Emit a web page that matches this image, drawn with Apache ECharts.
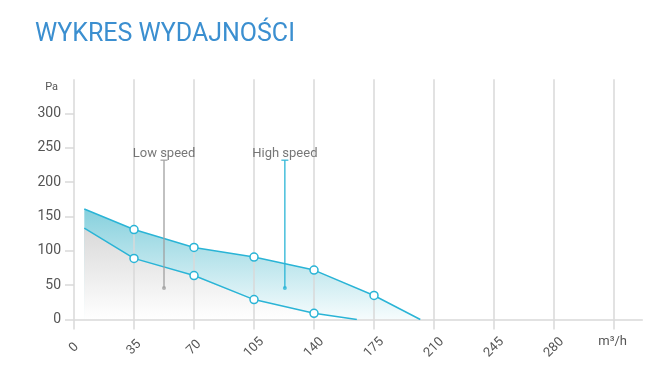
<!DOCTYPE html>
<html>
<head>
<meta charset="utf-8">
<script src="https://cdn.jsdelivr.net/npm/echarts@6/dist/echarts.min.js"></script>
<style>
html,body{margin:0;padding:0;background:#fff;}
#c{width:650px;height:382px;}
</style>
</head>
<body>
<div id="c"></div>
<script>
// ---- data ----
var titleText = 'WYKRES WYDAJNOŚCI';
var xTicks = [0, 35, 70, 105, 140, 175, 210, 245, 280, 315];
var xLabelTicks = [0, 35, 70, 105, 140, 175, 210, 245, 280];
var yTicks = [0, 50, 100, 150, 200, 250, 300];
var xUnit = 'm³/h';
var yUnit = 'Pa';
var highSpeed = [[6, 161], [35, 131], [70, 105], [105, 91], [140, 72], [175, 35], [202, 0]];
var lowSpeed = [[6, 133], [35, 89], [70, 64], [105, 29], [140, 9], [165, 0]];
var markedX = [35, 70, 105, 140, 175];
var lowLabel = 'Low speed';
var highLabel = 'High speed';
var lowAnno = [[52.5, 46], [52.5, 232]];
var highAnno = [[123, 46], [123, 232]];

var FONT = 'Roboto';
var TEAL = '#2ab4d6';
var GRID = '#d9d9d9';

function withMarkers(arr) {
  return arr.map(function (p) {
    return markedX.indexOf(p[0]) >= 0 ? { value: p } : { value: p, symbol: 'none' };
  });
}

function annoSeries(pts, color, text) {
  return [
    { type: 'line', data: pts, symbol: 'none', z: 4, silent: true,
      lineStyle: { color: color, width: 1.3 } },
    { type: 'scatter', z: 4, silent: true,
      data: [{ value: pts[0], symbol: 'circle', symbolSize: 4 },
             { value: pts[1], symbol: 'rect', symbolSize: [7, 1.5],
               label: { show: true, position: 'top', distance: -1, formatter: text,
                        color: '#555', fontSize: 13, fontFamily: FONT } }],
      itemStyle: { color: color } }
  ];
}

var chart = echarts.init(document.getElementById('c'), null, { renderer: 'canvas' });
var option = {
  animation: false,
  backgroundColor: '#fff',
  title: {
    text: titleText, left: 30, top: 17.5,
    textStyle: { color: '#3b8fd0', fontFamily: FONT, fontSize: 25, fontWeight: 'normal' }
  },
  grid: { left: 74, right: 7.7, top: 79.2, bottom: 62.5, containLabel: false },
  xAxis: {
    type: 'value', min: 0, max: 331.5, z: 2,
    name: xUnit, nameLocation: 'end', nameGap: -44,
    nameTextStyle: { color: '#555', fontSize: 13, fontFamily: FONT, align: 'left', verticalAlign: 'top', padding: [16, 0, 0, 0] },
    axisLine: { show: true, lineStyle: { color: GRID, width: 1.5 } },
    axisTick: { show: true, customValues: xTicks, length: 10, lineStyle: { color: GRID, width: 1.5 } },
    splitLine: { show: true, lineStyle: { color: GRID, width: 1.5 } },
    axisLabel: { customValues: xLabelTicks, rotate: 45, margin: 28, align: 'center', verticalAlign: 'middle',
                 color: '#555', fontSize: 13, fontFamily: FONT }
  },
  yAxis: {
    type: 'value', min: 0, max: 350, interval: 50, z: 2,
    name: yUnit, nameLocation: 'end', nameGap: -8.5,
    nameTextStyle: { color: '#555', fontSize: 11, fontFamily: FONT, align: 'right', verticalAlign: 'middle', padding: [0, 16, 0, 0] },
    axisLine: { show: false },
    axisTick: { show: true, customValues: yTicks, length: 9, lineStyle: { color: GRID, width: 1.5 } },
    splitLine: { show: false },
    axisLabel: { customValues: yTicks, margin: 13, color: '#555', fontSize: 14, fontFamily: FONT }
  },
  series: [
    { type: 'line', data: highSpeed, z: 1, symbol: 'none', silent: true,
      lineStyle: { width: 0 },
      areaStyle: { opacity: 1, color: new echarts.graphic.LinearGradient(0, 0, 0, 1, [
        { offset: 0, color: '#86d0dd' }, { offset: 1, color: '#f6fcfd' }]) } },
    { type: 'line', data: lowSpeed, z: 1, symbol: 'none', silent: true,
      lineStyle: { width: 0 },
      areaStyle: { opacity: 1, color: new echarts.graphic.LinearGradient(0, 0, 0, 1, [
        { offset: 0, color: '#d9d9d9' }, { offset: 1, color: '#ffffff' }]) } },
    { type: 'line', data: withMarkers(highSpeed), z: 3, symbol: 'circle', symbolSize: 8,
      lineStyle: { color: TEAL, width: 1.5 },
      itemStyle: { color: '#fff', borderColor: TEAL, borderWidth: 1.5 } },
    { type: 'line', data: withMarkers(lowSpeed), z: 3, symbol: 'circle', symbolSize: 8,
      lineStyle: { color: TEAL, width: 1.5 },
      itemStyle: { color: '#fff', borderColor: TEAL, borderWidth: 1.5 } }
  ].concat(annoSeries(lowAnno, '#a0a0a0', lowLabel))
   .concat(annoSeries(highAnno, TEAL, highLabel))
};
chart.setOption(option);
</script>
</body>
</html>
